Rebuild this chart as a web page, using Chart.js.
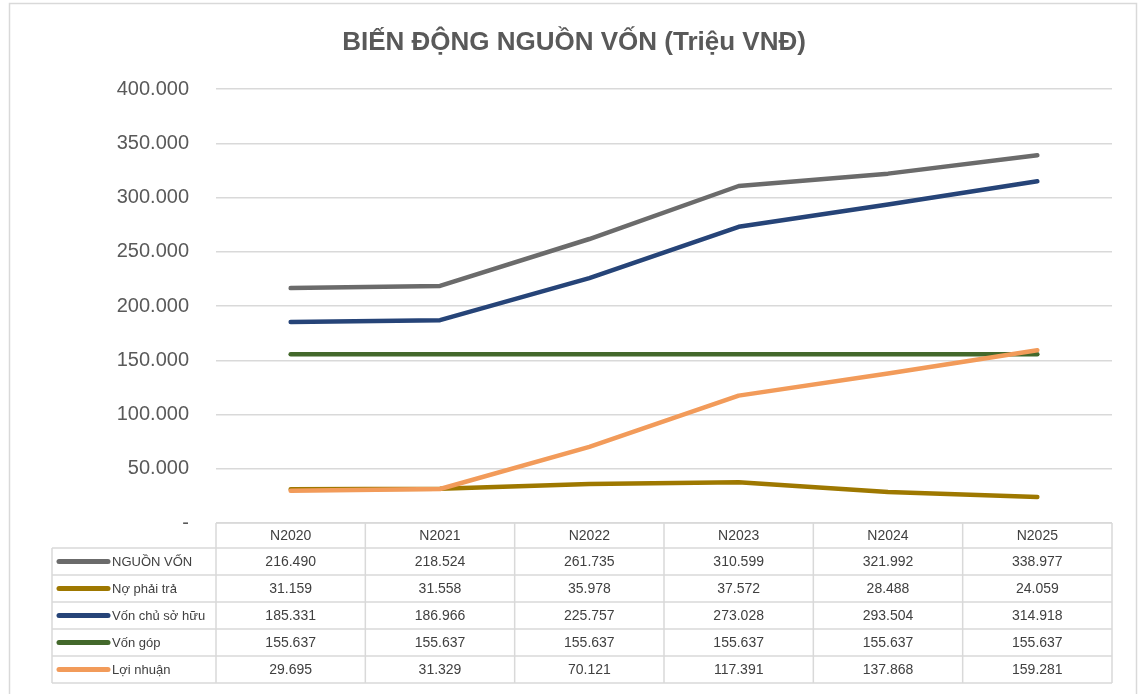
<!DOCTYPE html>
<html>
<head>
<meta charset="utf-8">
<script src="https://cdn.jsdelivr.net/npm/chart.js@4.4.1/dist/chart.umd.min.js"></script>
<style>
  html, body { margin: 0; padding: 0; background: #ffffff; }
  #wrap { position: relative; width: 1139px; height: 694px; }
  canvas { display: block; }
</style>
</head>
<body>
<div id="wrap"><canvas id="c" width="1139" height="694"></canvas></div>
<script>
const chartTitle = 'BIẾN ĐỘNG NGUỒN VỐN (Triệu VNĐ)';
const categories = ['N2020', 'N2021', 'N2022', 'N2023', 'N2024', 'N2025'];
const seriesNames = ['NGUỒN VỐN', 'Nợ phải trả', 'Vốn chủ sở hữu', 'Vốn góp', 'Lợi nhuận'];
const nguonVon   = [216490, 218524, 261735, 310599, 321992, 338977];
const noPhaiTra  = [31159, 31558, 35978, 37572, 28488, 24059];
const vonChuSoHuu = [185331, 186966, 225757, 273028, 293504, 314918];
const vonGop     = [155637, 155637, 155637, 155637, 155637, 155637];
const loiNhuan   = [29695, 31329, 70121, 117391, 137868, 159281];
const seriesValues = [nguonVon, noPhaiTra, vonChuSoHuu, vonGop, loiNhuan];
const seriesColors = ['#6b6b6b', '#9e7800', '#264478', '#43682b', '#f29b5a'];
const yMin = 0, yMax = 400000, yStep = 50000;

function fmt(v) {
  if (v === 0) return '-';
  return String(v).replace(/\B(?=(\d{3})+(?!\d))/g, '.');
}

const GRID = '#d9d9d9';
const TEXT = '#404040';

const tablePlugin = {
  id: 'tablePlugin',
  beforeDraw(chart) {
    const ctx = chart.ctx;
    ctx.save();
    ctx.fillStyle = '#ffffff';
    ctx.fillRect(0, 0, chart.width, chart.height);
    ctx.strokeStyle = GRID;
    ctx.lineWidth = 1.5;
    ctx.strokeRect(9.5, 3.5, 1127, 700);
    // title
    ctx.fillStyle = '#595959';
    ctx.font = 'bold 26px "Liberation Sans", Arial, sans-serif';
    ctx.textAlign = 'center';
    ctx.textBaseline = 'middle';
    ctx.fillText(chartTitle, 574, 43);
    ctx.restore();
  },
  afterDraw(chart) {
    const ctx = chart.ctx;
    const xs = chart.scales.x;
    const area = chart.chartArea;
    const n = categories.length;
    const w = (area.right - area.left) / n;
    const headTop = area.bottom;
    const headH = 25;
    const rowH = 27;
    const firstRowTop = headTop + headH;
    const tableBottom = firstRowTop + rowH * seriesNames.length;
    const labelLeft = 52;
    ctx.save();
    ctx.strokeStyle = GRID;
    ctx.lineWidth = 1.5;
    ctx.beginPath();
    ctx.moveTo(area.left, headTop); ctx.lineTo(area.right, headTop);
    for (let r = 0; r <= seriesNames.length; r++) {
      const y = firstRowTop + r * rowH;
      ctx.moveTo(labelLeft, y); ctx.lineTo(area.right, y);
    }
    ctx.moveTo(labelLeft, firstRowTop); ctx.lineTo(labelLeft, tableBottom);
    for (let k = 0; k <= n; k++) {
      const x = area.left + k * w;
      ctx.moveTo(x, headTop); ctx.lineTo(x, tableBottom);
    }
    ctx.stroke();

    ctx.fillStyle = TEXT;
    ctx.font = '14px "Liberation Sans", Arial, sans-serif';
    ctx.textAlign = 'center';
    ctx.textBaseline = 'middle';
    categories.forEach((c, i) => {
      ctx.fillText(c, xs.getPixelForValue(i), headTop + headH / 2 + 1);
    });
    seriesNames.forEach((name, r) => {
      const cy = firstRowTop + r * rowH + rowH / 2 + 1;
      ctx.strokeStyle = seriesColors[r];
      ctx.lineWidth = 5;
      ctx.lineCap = 'round';
      ctx.beginPath();
      ctx.moveTo(59, cy - 1); ctx.lineTo(108, cy - 1);
      ctx.stroke();
      ctx.fillStyle = TEXT;
      ctx.textAlign = 'left';
      ctx.font = '13px "Liberation Sans", Arial, sans-serif';
      ctx.fillText(name, 112, cy);
      ctx.textAlign = 'center';
      ctx.font = '14px "Liberation Sans", Arial, sans-serif';
      seriesValues[r].forEach((v, i) => {
        ctx.fillText(fmt(v), xs.getPixelForValue(i), cy);
      });
    });
    ctx.restore();
  }
};

const datasets = seriesNames.map((name, i) => ({
  label: name,
  data: seriesValues[i],
  borderColor: seriesColors[i],
  backgroundColor: seriesColors[i],
  borderWidth: 4.5,
  borderCapStyle: 'round',
  borderJoinStyle: 'round',
  pointRadius: 0,
  pointHoverRadius: 0,
  tension: 0,
  fill: false,
  order: seriesNames.length - i
}));

new Chart(document.getElementById('c'), {
  type: 'line',
  data: { labels: categories, datasets },
  plugins: [tablePlugin],
  options: {
    responsive: false,
    animation: false,
    layout: { padding: { top: 89, bottom: 171, left: 0, right: 27 } },
    plugins: {
      legend: { display: false },
      title: { display: false },
      tooltip: { enabled: false }
    },
    scales: {
      x: {
        type: 'category',
        offset: true,
        display: false
      },
      y: {
        min: yMin,
        max: yMax,
        ticks: {
          stepSize: yStep,
          padding: 27,
          color: '#595959',
          font: { family: '"Liberation Sans", Arial, sans-serif', size: 20 },
          callback: (v) => fmt(v)
        },
        grid: { color: GRID, lineWidth: 1.5, drawTicks: false },
        border: { display: false },
        afterFit: (s) => { s.width = 216; }
      }
    }
  }
});
</script>
</body>
</html>
